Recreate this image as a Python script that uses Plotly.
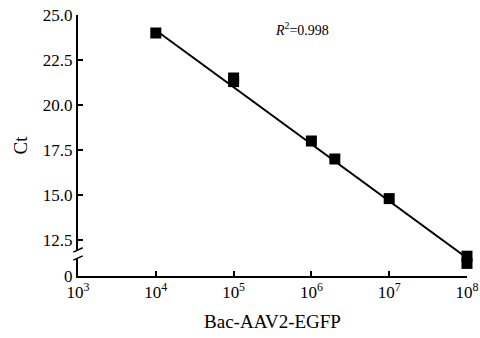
import plotly.graph_objects as go

# data
copies = [1e4, 1e5, 1e5, 1e6, 2e6, 1e7, 1e8, 1e8]
ct = [24.0, 21.5, 21.3, 18.0, 17.0, 14.8, 11.6, 11.2]
fit_x = [1e4, 1e8]
fit_y = [24.15, 11.5]
x_tickvals = [1e3, 1e4, 1e5, 1e6, 1e7, 1e8]
x_ticktext = ["10<sup>3</sup>", "10<sup>4</sup>", "10<sup>5</sup>",
              "10<sup>6</sup>", "10<sup>7</sup>", "10<sup>8</sup>"]
y_tickvals = [10.5, 12.5, 15.0, 17.5, 20.0, 22.5, 25.0]
y_ticktext = ["0", "12.5", "15.0", "17.5", "20.0", "22.5", "25.0"]

FONT = "Liberation Serif, Times New Roman, serif"

fig = go.Figure()
fig.add_trace(go.Scatter(x=fit_x, y=fit_y, mode="lines",
                         line=dict(color="black", width=2), showlegend=False,
                         cliponaxis=False))
fig.add_trace(go.Scatter(x=copies, y=ct, mode="markers",
                         marker=dict(symbol="square", size=11, color="black"),
                         showlegend=False, cliponaxis=False))

# axis break marks
brk_lo, brk_hi = 11.5, 11.95
shapes = [
    dict(type="rect", xref="paper", yref="y", x0=-0.01, x1=0.01, y0=brk_lo, y1=brk_hi,
         fillcolor="white", line=dict(width=0), layer="above"),
    dict(type="line", xref="paper", yref="y", x0=-0.012, x1=0.012, y0=brk_lo - 0.12, y1=brk_lo + 0.12,
         line=dict(color="black", width=1.5), layer="above"),
    dict(type="line", xref="paper", yref="y", x0=-0.012, x1=0.012, y0=brk_hi - 0.12, y1=brk_hi + 0.12,
         line=dict(color="black", width=1.5), layer="above"),
]

fig.update_layout(
    width=480, height=338,
    margin=dict(l=78, r=13, t=15, b=62, autoexpand=False),
    paper_bgcolor="white", plot_bgcolor="white",
    font=dict(family=FONT, size=17, color="black"),
    shapes=shapes,
    xaxis=dict(type="log", range=[2.9999, 8.0001], tickvals=x_tickvals, ticktext=x_ticktext,
               ticks="inside", ticklen=5, tickwidth=1.5, tickcolor="black",
               showline=True, linecolor="black", linewidth=2, showgrid=False,
               zeroline=False, automargin=False, ticklabeloverflow="allow",
               title=dict(text="Bac-AAV2-EGFP", font=dict(size=19), standoff=13)),
    yaxis=dict(range=[10.5, 25.0], tickvals=y_tickvals, ticktext=y_ticktext,
               ticks="inside", ticklen=5, tickwidth=1.5, tickcolor="black",
               showline=True, linecolor="black", linewidth=2, showgrid=False,
               zeroline=False, automargin=False,
               title=dict(text="Ct", font=dict(size=19), standoff=10)),
    annotations=[dict(x=0.575, y=24.2, xref="paper", yref="y",
                      text="<i>R</i><sup>2</sup>=0.998", showarrow=False,
                      font=dict(size=14, family=FONT))],
)

fig.write_html("out.html", config={"displayModeBar": False},
               post_script="document.body.style.margin='0';")
